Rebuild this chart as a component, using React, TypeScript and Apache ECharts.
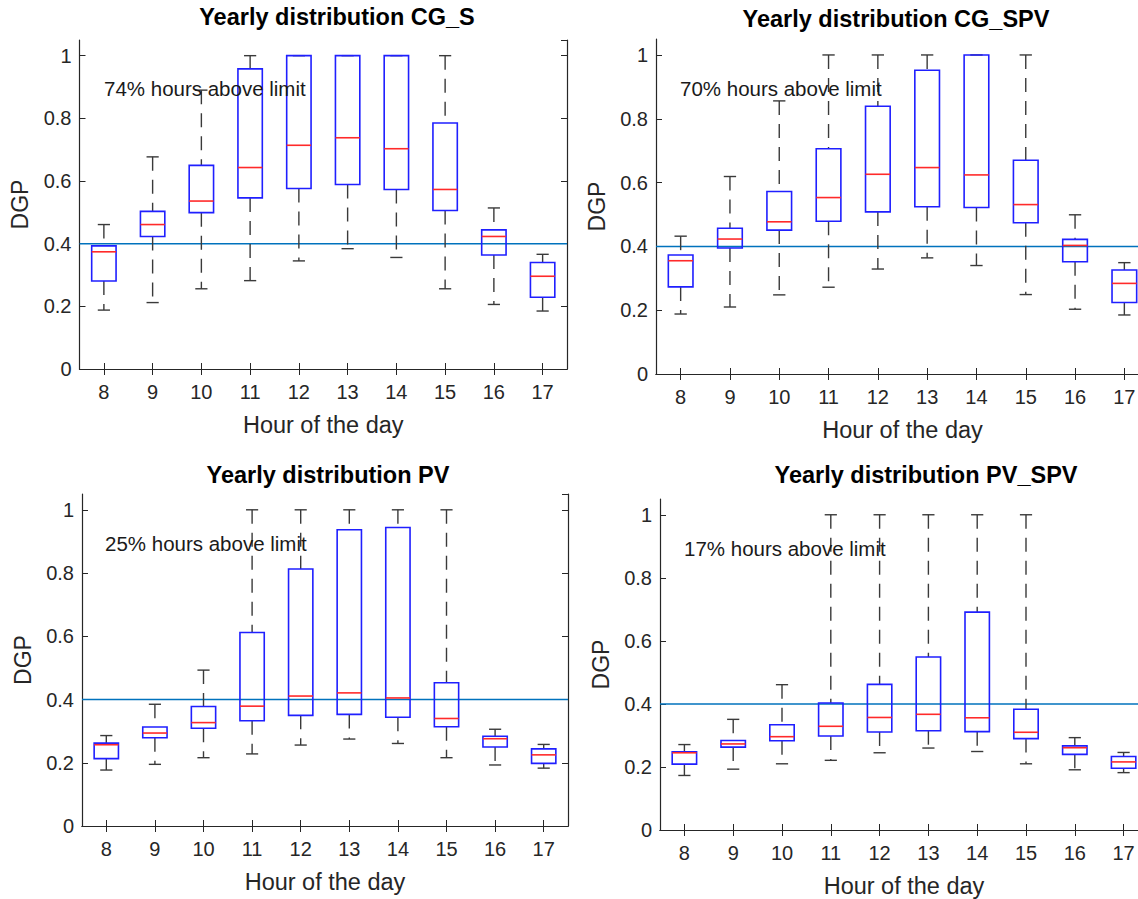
import React, { useEffect, useRef } from "react";
import * as echarts from "echarts";

const hours = ["8", "9", "10", "11", "12", "13", "14", "15", "16", "17"];
const limitValue = 0.4;
const titles = [
  "Yearly distribution CG_S",
  "Yearly distribution CG_SPV",
  "Yearly distribution PV",
  "Yearly distribution PV_SPV",
];
const notes = [
  "74% hours above limit",
  "70% hours above limit",
  "25% hours above limit",
  "17% hours above limit",
];

// CG_S
const cgsLow = [0.188, 0.212, 0.256, 0.282, 0.345, 0.384, 0.356, 0.256, 0.206, 0.185];
const cgsQ1 = [0.281, 0.423, 0.499, 0.546, 0.576, 0.589, 0.573, 0.506, 0.364, 0.229];
const cgsMed = [0.374, 0.461, 0.536, 0.643, 0.714, 0.738, 0.703, 0.573, 0.423, 0.296];
const cgsQ3 = [0.393, 0.503, 0.65, 0.958, 1.0, 1.0, 1.0, 0.785, 0.444, 0.34];
const cgsHigh = [0.461, 0.677, 0.89, 1.0, 1.0, 1.0, 1.0, 1.0, 0.514, 0.366];

// CG_SPV
const cgspvLow = [0.188, 0.21, 0.248, 0.272, 0.329, 0.364, 0.34, 0.249, 0.203, 0.185];
const cgspvQ1 = [0.273, 0.395, 0.451, 0.479, 0.508, 0.524, 0.522, 0.474, 0.352, 0.224];
const cgspvMed = [0.355, 0.423, 0.477, 0.553, 0.626, 0.647, 0.624, 0.531, 0.403, 0.284];
const cgspvQ3 = [0.373, 0.457, 0.572, 0.706, 0.839, 0.952, 1.0, 0.67, 0.422, 0.326];
const cgspvHigh = [0.432, 0.619, 0.856, 1.0, 1.0, 1.0, 1.0, 1.0, 0.499, 0.349];

// PV
const pvLow = [0.177, 0.195, 0.216, 0.228, 0.256, 0.275, 0.261, 0.216, 0.193, 0.183];
const pvQ1 = [0.213, 0.279, 0.309, 0.333, 0.35, 0.353, 0.344, 0.314, 0.25, 0.198];
const pvMed = [0.257, 0.294, 0.327, 0.379, 0.411, 0.421, 0.405, 0.34, 0.276, 0.225];
const pvQ3 = [0.262, 0.313, 0.378, 0.612, 0.813, 0.937, 0.944, 0.453, 0.284, 0.244];
const pvHigh = [0.286, 0.385, 0.493, 1.0, 1.0, 1.0, 1.0, 1.0, 0.306, 0.258];

// PV_SPV
const pvspvLow = [0.173, 0.193, 0.21, 0.221, 0.245, 0.26, 0.249, 0.21, 0.191, 0.182];
const pvspvQ1 = [0.209, 0.263, 0.283, 0.298, 0.311, 0.315, 0.312, 0.29, 0.24, 0.196];
const pvspvMed = [0.245, 0.273, 0.296, 0.329, 0.357, 0.367, 0.356, 0.31, 0.261, 0.216];
const pvspvQ3 = [0.248, 0.284, 0.334, 0.403, 0.462, 0.549, 0.691, 0.383, 0.267, 0.233];
const pvspvHigh = [0.271, 0.351, 0.461, 1.0, 1.0, 1.0, 1.0, 1.0, 0.293, 0.246];

const panelStats = [
  [cgsLow, cgsQ1, cgsMed, cgsQ3, cgsHigh],
  [cgspvLow, cgspvQ1, cgspvMed, cgspvQ3, cgspvHigh],
  [pvLow, pvQ1, pvMed, pvQ3, pvHigh],
  [pvspvLow, pvspvQ1, pvspvMed, pvspvQ3, pvspvHigh],
];

const FONT = "'Liberation Sans', Arial, Helvetica, sans-serif";
const AXIS_COLOR = "#262626";

// layout (pixels); the right-hand panels run past the 1138px window edge
const grids = [
  { left: 79.5, top: 40, width: 487.5, height: 329 },
  { left: 656, top: 39, width: 493, height: 335 },
  { left: 82, top: 494, width: 486, height: 332 },
  { left: 660, top: 499, width: 488, height: 331 },
];
const titlePos = [
  [337, 17],
  [896, 19],
  [328, 475],
  [926, 475],
];
const notePos = [
  [104, 88],
  [680, 88],
  [105, 543],
  [684, 548],
];

const renderBox = (params: any, api: any) => {
  const i = api.value(0);
  const pLow = api.coord([i, api.value(1)]);
  const pQ1 = api.coord([i, api.value(2)]);
  const pMed = api.coord([i, api.value(3)]);
  const pQ3 = api.coord([i, api.value(4)]);
  const pHigh = api.coord([i, api.value(5)]);
  const bw = api.size([1, 0])[0] * 0.5;
  const cx = pMed[0];
  const capHalf = bw / 4;
  const whisker = { stroke: "#3a3a3a", lineWidth: 1.4, lineDash: [14, 9], fill: null };
  const solid = { stroke: "#3a3a3a", lineWidth: 1.4, fill: null };
  const children: any[] = [];
  if (pHigh[1] < pQ3[1] - 0.5) {
    children.push({ type: "line", shape: { x1: cx, y1: pHigh[1], x2: cx, y2: pQ3[1] }, style: whisker });
  }
  if (pLow[1] > pQ1[1] + 0.5) {
    children.push({ type: "line", shape: { x1: cx, y1: pQ1[1], x2: cx, y2: pLow[1] }, style: whisker });
  }
  children.push({ type: "line", shape: { x1: cx - capHalf, y1: pHigh[1], x2: cx + capHalf, y2: pHigh[1] }, style: solid });
  children.push({ type: "line", shape: { x1: cx - capHalf, y1: pLow[1], x2: cx + capHalf, y2: pLow[1] }, style: solid });
  children.push({
    type: "rect",
    shape: { x: cx - bw / 2, y: pQ3[1], width: bw, height: pQ1[1] - pQ3[1] },
    style: { stroke: "#1f1fff", lineWidth: 1.6, fill: null },
  });
  children.push({
    type: "line",
    shape: { x1: cx - bw / 2, y1: pMed[1], x2: cx + bw / 2, y2: pMed[1] },
    style: { stroke: "#ff2a2a", lineWidth: 1.6 },
  });
  return { type: "group", children };
};

const renderLimit = (params: any, api: any) => {
  const p = api.coord([api.value(0), api.value(1)]);
  const cs = params.coordSys;
  return {
    type: "line",
    shape: { x1: cs.x, y1: p[1], x2: cs.x + cs.width, y2: p[1] },
    style: { stroke: "#0072BD", lineWidth: 1.5 },
  };
};

export default function App() {
  const ref = useRef<HTMLDivElement>(null);

  useEffect(() => {
    document.body.style.margin = "0";
    document.body.style.overflow = "hidden";
    document.documentElement.style.overflow = "hidden";
    if (!ref.current) return;
    const chart = echarts.init(ref.current, undefined, { renderer: "svg" });

    const xAxis: any[] = [];
    const yAxis: any[] = [];
    const series: any[] = [];
    const graphic: any[] = [];

    grids.forEach((g, k) => {
      const line = { show: true, lineStyle: { color: AXIS_COLOR, width: 1.2 } };
      const tick = { show: true, inside: true, length: 6, alignWithLabel: true, lineStyle: { color: AXIS_COLOR } };
      xAxis.push({
        type: "category",
        gridIndex: k,
        data: hours,
        position: "bottom",
        axisLine: line,
        axisTick: tick,
        axisLabel: { color: AXIS_COLOR, fontSize: 20, fontFamily: FONT, margin: 13 },
        name: "Hour of the day",
        nameLocation: "middle",
        nameGap: 44,
        nameTextStyle: { color: AXIS_COLOR, fontSize: 23.5, fontFamily: FONT },
        splitLine: { show: false },
      });
      xAxis.push({
        type: "category",
        gridIndex: k,
        data: hours,
        position: "top",
        axisLine: line,
        axisTick: tick,
        axisLabel: { show: false },
        splitLine: { show: false },
      });
      yAxis.push({
        type: "value",
        gridIndex: k,
        min: 0,
        max: 1.05,
        interval: 0.2,
        position: "left",
        axisLine: line,
        axisTick: { show: true, inside: true, length: 6, lineStyle: { color: AXIS_COLOR } },
        axisLabel: {
          color: AXIS_COLOR,
          fontSize: 20,
          fontFamily: FONT,
          margin: 8,
          showMaxLabel: false,
          formatter: (v: number) => String(Math.round(v * 10) / 10),
        },
        name: "DGP",
        nameLocation: "middle",
        nameGap: 48,
        nameTextStyle: { color: AXIS_COLOR, fontSize: 23, fontFamily: FONT },
        splitLine: { show: false },
      });
      yAxis.push({
        type: "value",
        gridIndex: k,
        min: 0,
        max: 1.05,
        interval: 0.2,
        position: "right",
        axisLine: line,
        axisTick: { show: true, inside: true, length: 6, lineStyle: { color: AXIS_COLOR } },
        axisLabel: { show: false },
        splitLine: { show: false },
      });

      series.push({
        type: "custom",
        xAxisIndex: 2 * k,
        yAxisIndex: 2 * k,
        renderItem: renderLimit,
        encode: { x: 0, y: 1 },
        data: [[0, limitValue]],
        silent: true,
        z: 1,
      });

      const [lo, q1, md, q3, hi] = panelStats[k];
      series.push({
        type: "custom",
        xAxisIndex: 2 * k,
        yAxisIndex: 2 * k,
        renderItem: renderBox,
        encode: { x: 0, y: [1, 2, 3, 4, 5] },
        data: hours.map((_, i) => [i, lo[i], q1[i], md[i], q3[i], hi[i]]),
        z: 2,
      });

      graphic.push({
        type: "text",
        x: titlePos[k][0],
        y: titlePos[k][1],
        style: {
          text: titles[k],
          fill: "#000",
          font: `bold 23.5px ${FONT}`,
          align: "center",
          verticalAlign: "middle",
        },
      });
      graphic.push({
        type: "text",
        x: notePos[k][0],
        y: notePos[k][1],
        z: 10,
        style: {
          text: notes[k],
          fill: "#1a1a1a",
          font: `20.5px ${FONT}`,
          align: "left",
          verticalAlign: "middle",
        },
      });
    });

    chart.setOption({
      animation: false,
      backgroundColor: "#ffffff",
      grid: grids.map((g) => ({ ...g, containLabel: false, outerBoundsMode: "none" })),
      xAxis,
      yAxis,
      series,
      graphic,
    });

    return () => {
      chart.dispose();
    };
  }, []);

  return <div ref={ref} style={{ width: 1170, height: 899 }} />;
}
